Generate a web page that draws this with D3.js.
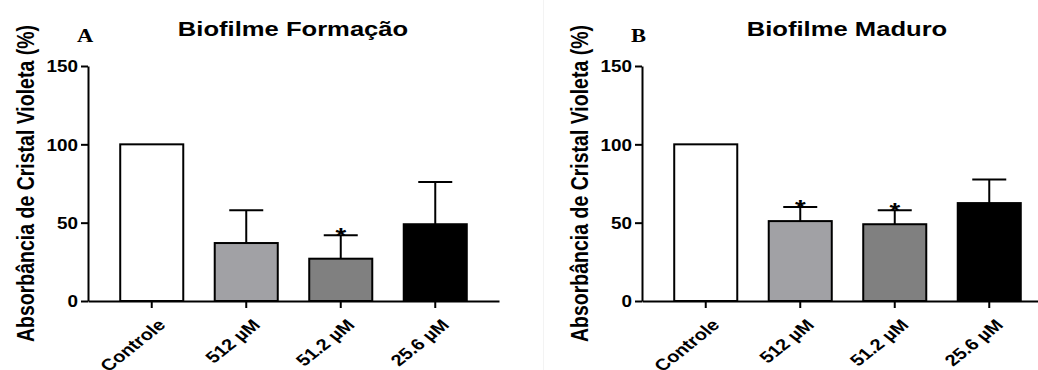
<!DOCTYPE html>
<html>
<head>
<meta charset="utf-8">
<script src="https://cdn.jsdelivr.net/npm/d3@7"></script>
<style>
  body { margin: 0; background: #fff; }
  svg text { font-family: "Liberation Sans", Arial, sans-serif; font-weight: bold; }
</style>
</head>
<body>
<script>
// values
var categories = ["Controle", "512 µM", "51.2 µM", "25.6 µM"];
var barColors = ["#ffffff", "#a1a1a5", "#808080", "#000000"];

var formacaoMean = [100, 37, 27, 49];
var formacaoErr = [0, 21, 15, 27];
var formacaoSig = [false, false, true, false];

var maduroMean = [100, 51, 49, 62.5];
var maduroErr = [0, 9, 9, 15];
var maduroSig = [false, true, true, false];

var yTicks = [0, 50, 100, 150];
var yLabel = "Absorbância de Cristal Violeta (%)";

var w = 1038, h = 370;
var sx = 1.25; // the source figure is stretched sideways

var svg = d3.select("body").append("svg")
    .attr("width", w)
    .attr("height", h);

// faint edge of the second image
svg.append("line")
    .attr("x1", 543.5).attr("x2", 543.5)
    .attr("y1", 0).attr("y2", h)
    .attr("stroke", "#f3f3f3");

var y = d3.scaleLinear().domain([0, 150]).range([301, 66]);

function panel(axisX, letter, title, means, errs, sig){
    var x = d3.scaleBand()
        .domain(categories)
        .range([axisX, axisX + 411])
        .paddingInner(0.333)
        .paddingOuter(0.341);

    var g = svg.append("g");

    // bars
    g.selectAll("rect")
        .data(categories)
        .enter().append("rect")
        .attr("x", function(d){ return x(d); })
        .attr("y", function(d, i){ return y(means[i]); })
        .attr("width", x.bandwidth())
        .attr("height", function(d, i){ return y(0) - y(means[i]); })
        .attr("fill", function(d, i){ return barColors[i]; })
        .attr("stroke", "#000")
        .attr("stroke-width", 2);

    // upper error bars
    categories.forEach(function(c, i){
        if(errs[i] <= 0) return;
        var cx = x(c) + x.bandwidth() / 2;
        var top = y(means[i] + errs[i]);
        g.append("line")
            .attr("x1", cx).attr("x2", cx)
            .attr("y1", y(means[i])).attr("y2", top)
            .attr("stroke", "#000").attr("stroke-width", 2);
        g.append("line")
            .attr("x1", cx - 17).attr("x2", cx + 17)
            .attr("y1", top).attr("y2", top)
            .attr("stroke", "#000").attr("stroke-width", 2);
        if(sig[i]){
            g.append("text")
                .attr("transform", "translate(" + cx + "," + (top + 8) + ") scale(" + sx + ",1)")
                .attr("text-anchor", "middle")
                .style("font-size", "22px")
                .text("*");
        }
    });

    // y axis
    var yAxis = d3.axisLeft(y).tickValues(yTicks).tickSize(7).tickSizeOuter(0);
    var ya = g.append("g")
        .attr("transform", "translate(" + axisX + ",0)")
        .call(yAxis);
    ya.select(".domain").attr("stroke-width", 2);
    ya.selectAll(".tick line").attr("stroke-width", 2);
    ya.selectAll(".tick text")
        .attr("x", null)
        .attr("dy", "0.36em")
        .attr("transform", "translate(-10,0) scale(1.18,1)")
        .style("font-size", "16px")
        .attr("fill", "#000");

    // x axis
    var xAxis = d3.axisBottom(x).tickSize(7).tickSizeOuter(0);
    var xa = g.append("g")
        .attr("transform", "translate(0," + y(0) + ")")
        .call(xAxis);
    xa.select(".domain").attr("stroke-width", 2);
    xa.selectAll(".tick line").attr("stroke-width", 2);
    xa.selectAll(".tick text")
        .attr("y", null)
        .attr("dy", null)
        .attr("text-anchor", "end")
        .attr("transform", "translate(15,25) scale(" + sx + ",1) rotate(-45)")
        .style("font-size", "16px")
        .attr("fill", "#000");

    // y axis title
    g.append("text")
        .attr("transform", "translate(" + (axisX - 54) + ",183.5) scale(" + sx + ",1) rotate(-90)")
        .attr("text-anchor", "middle")
        .attr("textLength", 317)
        .attr("lengthAdjust", "spacingAndGlyphs")
        .style("font-size", "19px")
        .text(yLabel);

    // chart title
    g.append("text")
        .attr("transform", "translate(" + (axisX + 205) + ",36) scale(1.28,1)")
        .attr("text-anchor", "middle")
        .style("font-size", "20px")
        .text(title);

    // panel letter
    g.append("text")
        .attr("transform", "translate(" + (axisX - 11) + ",42) scale(" + sx + ",1)")
        .style("font-family", "'Liberation Serif', 'Times New Roman', serif")
        .style("font-size", "18px")
        .text(letter);
}

panel(88, "A", "Biofilme Formação", formacaoMean, formacaoErr, formacaoSig);
panel(642, "B", "Biofilme Maduro", maduroMean, maduroErr, maduroSig);
</script>
</body>
</html>
